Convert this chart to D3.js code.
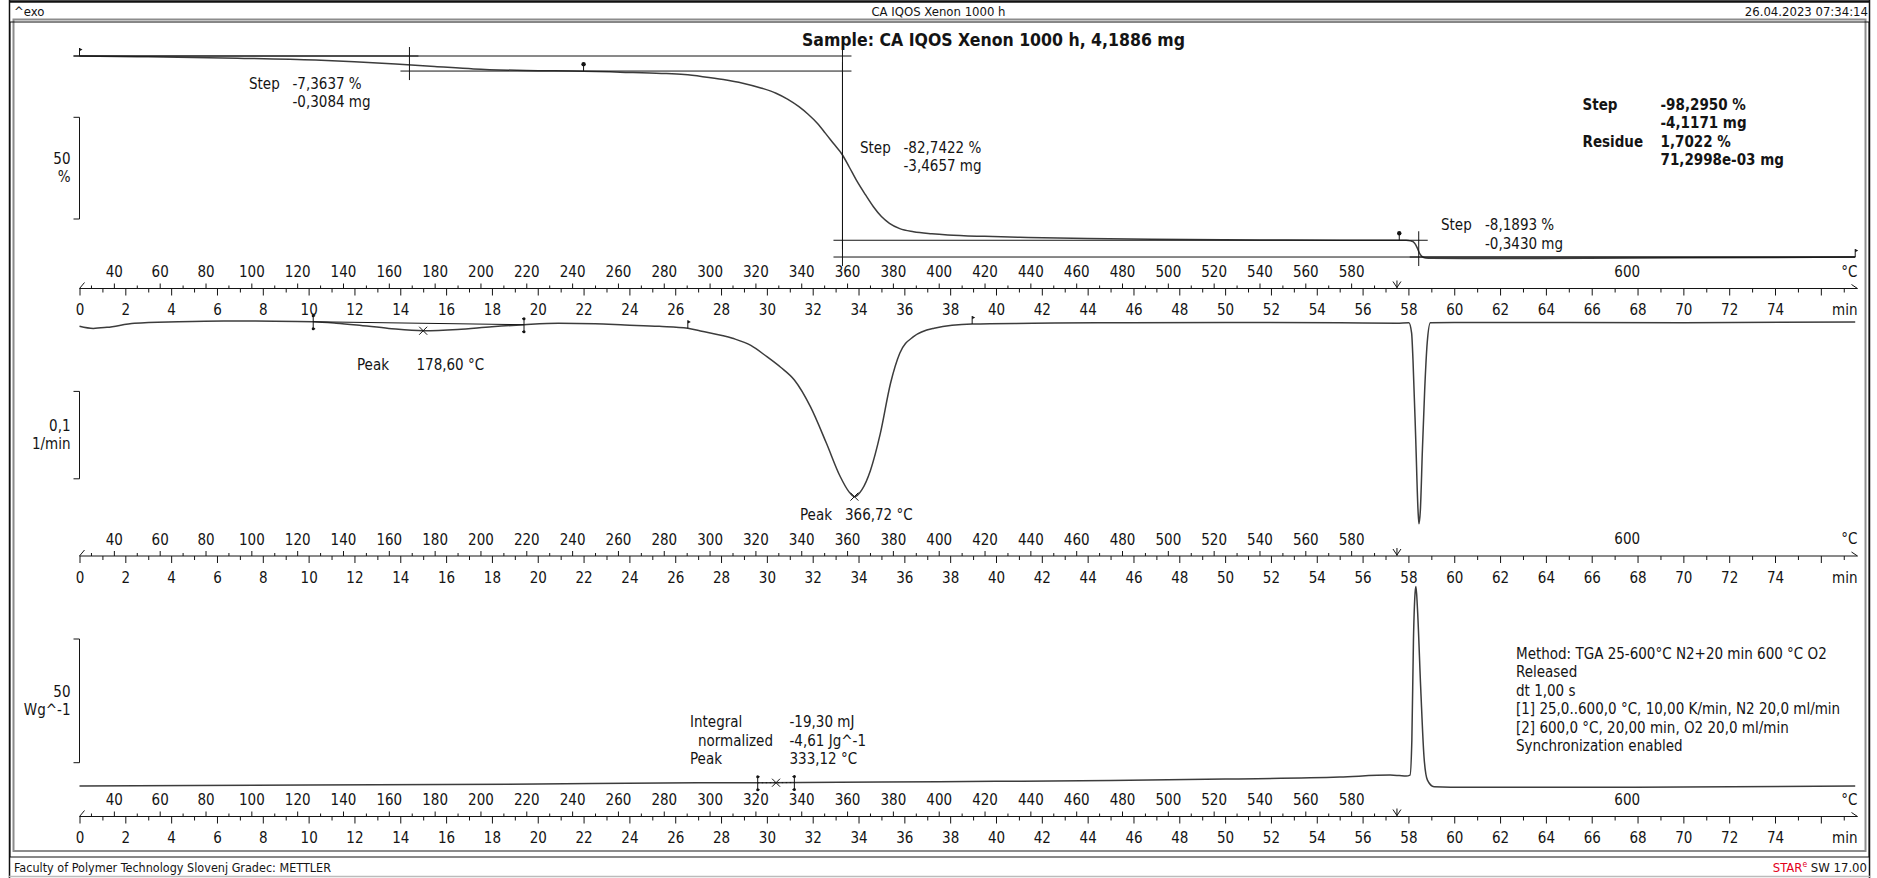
<!DOCTYPE html>
<html>
<head>
<meta charset="utf-8">
<script src="https://cdn.jsdelivr.net/npm/d3@7"></script>
<style>
  body { margin: 0; background: #fff; }
  svg text { font-family: "DejaVu Sans Condensed", "DejaVu Sans", sans-serif; font-stretch: condensed; fill: #141414; }
</style>
</head>
<body>
<svg id="chart" width="1877" height="878"></svg>
<script>
// TGA curve: weight, % of initial mass, against time in min
const tgaTime = [0, 3, 6.9, 10.3, 12, 13.8, 15.5, 17.2, 19.5, 22, 23.6, 25.4, 26.4, 27.2, 28.1, 28.95, 29.7, 30.4, 30.9, 31.4,
                 31.8, 32.2, 32.55, 32.9, 33.3, 33.6, 33.9, 34.3, 34.65, 35, 35.35, 35.8, 36.4, 37.2, 37.9, 39.5, 41.4, 44, 46.8, 51.5,
                 55, 57.3, 57.9, 58.1, 58.2, 58.3, 58.4, 58.5, 58.6, 58.75, 59, 62, 70, 77.5];
const tgaMass = [100, 99.6, 98.9, 98.0, 97.2, 96.1, 94.9, 93.7, 92.9, 92.6, 92.1, 91.5, 90.9, 89.9, 88.5, 86.7, 84.5, 81.8, 78.9, 75.2,
                 71.5, 67.1, 62.3, 57.3, 51.6, 45.6, 39.4, 32.2, 26.3, 21.5, 18.2, 15.6, 14.1, 13.1, 12.5, 11.8, 11.3, 10.8, 10.4, 10.0,
                 9.95, 9.9, 9.85, 9.6, 9.2, 8.0, 5.8, 3.2, 1.9, 1.2, 1.05, 1.0, 1.3, 1.7];

// DTG curve, 1/min
const dtgTime = [0, 0.6, 1.2, 2.4, 4.3, 6.3, 8.5, 10.2, 11.2, 12.1, 13.5, 15, 16.5, 18, 19.4, 20.9, 22.5, 23.8, 25.3, 26.55,
                 27.1, 28.5, 29.3, 30, 30.6, 31.2, 31.9, 32.6, 33.2, 33.57, 33.82, 34.15, 34.52, 34.95, 35.4, 35.8, 36.4, 37.3, 38.96, 41.6,
                 44.6, 50, 55, 57.5, 58.02, 58.14, 58.2, 58.32, 58.42, 58.46, 58.52, 58.61, 58.71, 58.82, 58.96, 60, 70, 77.5];
const dtgRate = [-0.004, -0.0065, -0.0053, -0.0007, 0.001, 0.0019, 0.0017, 0.0011, -0.0005, -0.0026, -0.0065, -0.0092, -0.0078, -0.0046, -0.0023, -0.0007, -0.0012, -0.0026, -0.0042, -0.0064,
                 -0.0095, -0.0178, -0.026, -0.0389, -0.051, -0.0656, -0.0961, -0.138, -0.176, -0.193, -0.199, -0.191, -0.169, -0.127, -0.069, -0.035, -0.016, -0.0064, -0.0015, -0.0007,
                 0, 0.0002, 0, -0.0005, 0, -0.012, -0.043, -0.134, -0.215, -0.230, -0.215, -0.146, -0.077, -0.023, 0, 0.0003, 0, 0.0007];

// DSC heat flow, W/g (relative to the start)
const dscTime = [0, 5, 10, 20, 27, 30, 35, 40, 45, 50, 55, 57.2, 57.6, 57.9, 58.07, 58.15, 58.22, 58.29, 58.33, 58.39,
                 58.54, 58.68, 58.83, 59.12, 59.85, 65, 70, 77.5];
const dscFlow = [0, 0.2, 0.4, 0.8, 1.3, 1.3, 1.6, 1.9, 2.2, 2.8, 3.6, 4.4, 4.2, 4.0, 4.4, 18.5, 58.9, 77.7, 80.4, 72.3,
                 38.7, 11.8, 2.4, -0.3, -0.5, -0.5, -0.4, 0];

// axis labels
const minuteLabels = [0, 2, 4, 6, 8, 10, 12, 14, 16, 18, 20, 22, 24, 26, 28, 30, 32, 34, 36, 38,
                      40, 42, 44, 46, 48, 50, 52, 54, 56, 58, 60, 62, 64, 66, 68, 70, 72, 74];
const tempLabels = [40, 60, 80, 100, 120, 140, 160, 180, 200, 220, 240, 260, 280, 300, 320, 340, 360, 380, 400, 420,
                    440, 460, 480, 500, 520, 540, 560, 580];

// temperature program: 25..600 °C at 10 K/min, then isothermal
const heatStart = 25, heatEnd = 600, heatEndTime = 57.5, endTime = 77.6;

// TGA step evaluations
const stepFrom = [0, 22, 57.6];
const stepTo = [22, 57.6, 77.5];
const stepMid = [14.4, 33.3, 58.45];
const stepUpper = [100, 92.64, 9.9];
const stepLower = [92.64, 9.9, 1.7];
const stepPct = ["-7,3637 %", "-82,7422 %", "-8,1893 %"];
const stepMg = ["-0,3084 mg", "-3,4657 mg", "-0,3430 mg"];

// DTG peak evaluations
const dtgPeakTime = [15.0, 33.82];
const dtgPeakText = ["178,60 °C", "366,72 °C"];
const dtgLimits = [[10.2, 19.4], [26.55, 38.96]];

// DSC integral
const dscLimits = [29.6, 31.2];
const dscPeakTime = 30.4;

const methodLines = [
  "Method: TGA 25-600°C N2+20 min 600 °C O2",
  "Released",
  "dt 1,00 s",
  "[1] 25,0..600,0 °C, 10,00 K/min, N2 20,0 ml/min",
  "[2] 600,0 °C, 20,00 min, O2 20,0 ml/min",
  "Synchronization enabled"
];

const FONT = '"DejaVu Sans Condensed", "DejaVu Sans", sans-serif';
const NARROW = '"Liberation Sans Narrow", "Arial Narrow", "Liberation Sans", sans-serif';
const INK = "#141414", CURVE = "#3c3c3c";

const svg = d3.select("#chart");

let x = d3.scaleLinear().domain([0, endTime]).range([79.5, 1857.5]);
let tempX = d3.scaleLinear().domain([heatStart, heatEnd]).range([x(0), x(heatEndTime)]);

let yTga = d3.scaleLinear().domain([100, 0]).range([56, 260.5]);
let yDtg = d3.scaleLinear().domain([0, -0.1]).range([322.7, 410.1]);
let yDsc = d3.scaleLinear().domain([0, 50]).range([786, 662]);

function valueAt(times, values, t) {
    let i = d3.bisectLeft(times, t);
    if (i <= 0) return values[0];
    if (i >= times.length) return values[values.length - 1];
    let f = (t - times[i - 1]) / (times[i] - times[i - 1]);
    return values[i - 1] + f * (values[i] - values[i - 1]);
}

function text(xp, yp, s, opt) {
    opt = opt || {};
    return svg.append("text")
        .attr("x", xp).attr("y", yp)
        .attr("dy", "0.35em")
        .attr("text-anchor", opt.anchor || "start")
        .attr("font-size", opt.size || 15)
        .attr("font-weight", opt.bold ? "bold" : null)
        .attr("font-family", opt.family || FONT)
        .text(s);
}

// ---- frame ----
let frame = svg.append("g").attr("fill", "none");
frame.append("line").attr("x1", 9).attr("x2", 1870).attr("y1", 1.5).attr("y2", 1.5).attr("stroke", "#111").attr("stroke-width", 2.5);
frame.append("line").attr("x1", 9.5).attr("x2", 9.5).attr("y1", 0).attr("y2", 878).attr("stroke", "#111").attr("stroke-width", 1.5);
frame.append("line").attr("x1", 1869.5).attr("x2", 1869.5).attr("y1", 0).attr("y2", 878).attr("stroke", "#111").attr("stroke-width", 1.5);
frame.append("line").attr("x1", 9).attr("x2", 1870).attr("y1", 876.5).attr("y2", 876.5).attr("stroke", "#bbb").attr("stroke-width", 1.5);
frame.append("rect").attr("x", 13.5).attr("y", 19.5).attr("width", 1852).attr("height", 831.5).attr("stroke", "#8c8c8c").attr("stroke-width", 2);
frame.append("rect").attr("x", 10).attr("y", 22).attr("width", 1859).attr("height", 835).attr("stroke", "#111").attr("stroke-width", 1);

text(14, 11, "^exo", {family: NARROW, size: 13});
text(938.5, 11, "CA IQOS Xenon 1000 h", {family: NARROW, size: 13, anchor: "middle"});
text(1868, 11, "26.04.2023 07:34:14", {family: NARROW, size: 13, anchor: "end"});
text(993.5, 39.5, "Sample: CA IQOS Xenon 1000 h, 4,1886 mg", {size: 17.5, bold: true, anchor: "middle"});

text(14, 867.5, "Faculty of Polymer Technology Slovenj Gradec: METTLER", {family: NARROW, size: 12.5});

// STARe logo, right aligned by measuring it
let star = svg.append("text").attr("x", 0).attr("y", 867.5).attr("dy", "0.35em")
    .attr("font-size", 13).attr("font-family", FONT);
star.append("tspan").style("fill", "#e3001b").text("STAR");
star.append("tspan").style("fill", "#e3001b").attr("font-size", 8.5).attr("baseline-shift", "super").text("e");
star.append("tspan").text(" SW 17.00");
let starBox = star.node().getBBox();
star.attr("x", 1867 - starBox.width);

// ---- time / temperature axes ----
function timeAxis(y0) {
    let g = svg.append("g").attr("transform", "translate(0," + y0 + ")");
    let style = function (sel) {
        sel.select(".domain").remove();
        sel.attr("font-family", FONT).attr("font-size", 15).attr("color", INK);
        sel.selectAll("line").attr("stroke-width", 1);
    };

    let minor = d3.range(1, 78, 2);
    let major = d3.range(0, 78, 2);
    g.append("g").call(d3.axisBottom(x).tickValues(minor).tickSize(4).tickFormat("")).call(style);
    g.append("g").call(d3.axisBottom(x).tickValues(major).tickSize(7).tickPadding(9.3)
        .tickFormat(function (d) { return minuteLabels.includes(d) ? d : ""; })).call(style);

    let tMinor = d3.range(30, 600, 20);
    g.append("g").call(d3.axisTop(tempX).tickValues(tMinor).tickSize(3).tickFormat("")).call(style);
    g.append("g").call(d3.axisTop(tempX).tickValues(tempLabels).tickSize(5).tickPadding(6.5)).call(style);

    let x0 = x(0), x1 = x(endTime);
    g.append("path").attr("fill", "none").attr("stroke", INK).attr("stroke-width", 1)
        .attr("d", "M" + (x0 + 5) + ",-6 L" + x0 + ",0 H" + x1 + " L" + (x1 - 6) + ",-4");

    // end of the heating segment
    let xe = tempX(heatEnd);
    g.append("path").attr("fill", "none").attr("stroke", INK).attr("stroke-width", 1)
        .attr("d", "M" + (xe - 4) + ",-7 L" + xe + ",-1 L" + (xe + 4) + ",-7 M" + xe + ",-8 V0");

    g.append("text").attr("x", x((heatEndTime + endTime) / 2)).attr("y", -17).attr("dy", "0.35em")
        .attr("text-anchor", "middle").attr("font-size", 15).text(heatEnd);
    g.append("text").attr("x", x1).attr("y", -17).attr("dy", "0.35em")
        .attr("text-anchor", "end").attr("font-size", 15).text("°C");
    g.append("text").attr("x", x1).attr("y", 21.5).attr("dy", "0.35em")
        .attr("text-anchor", "end").attr("font-size", 15).text("min");
}
timeAxis(288.5);
timeAxis(556);
timeAxis(816.5);

// ---- scale bars ----
function scaleBar(top, bottom, l1, l2) {
    svg.append("path").attr("fill", "none").attr("stroke", INK).attr("stroke-width", 1)
        .attr("d", "M73.5," + top + " H79.5 V" + bottom + " H73.5");
    let mid = (top + bottom) / 2;
    text(70.5, mid - 9, l1, {anchor: "end"});
    text(70.5, mid + 9, l2, {anchor: "end"});
}
scaleBar(117.3, 219, "50", "%");
scaleBar(391.4, 478.8, "0,1", "1/min");
scaleBar(639, 762.7, "50", "Wg^-1");

// ---- curves ----
function curve(times, values, ys) {
    let line = d3.line()
        .x(function (d) { return x(d[0]); })
        .y(function (d) { return ys(d[1]); })
        .curve(d3.curveMonotoneX);
    svg.append("path").datum(d3.zip(times, values))
        .attr("fill", "none").attr("stroke", CURVE).attr("stroke-width", 1.5)
        .attr("d", line);
}
curve(tgaTime, tgaMass, yTga);
curve(dtgTime, dtgRate, yDtg);
curve(dscTime, dscFlow, yDsc);

// ---- markers ----
let marks = svg.append("g").attr("fill", INK).attr("stroke", INK).attr("stroke-width", 1);

function flag(t, ys, times, values) {
    let px = x(t), py = ys(valueAt(times, values, t));
    marks.append("path").attr("fill", "none").attr("d", "M" + px + "," + py + " V" + (py - 8));
    marks.append("path").attr("stroke", "none").attr("d", "M" + px + "," + (py - 8) + " l3,1.6 l-3,1.6 z");
}
function pin(t, ys, times, values) {
    let px = x(t), py = ys(valueAt(times, values, t));
    marks.append("path").attr("fill", "none").attr("d", "M" + px + "," + py + " V" + (py - 6));
    marks.append("circle").attr("cx", px).attr("cy", py - 7).attr("r", 2.2).attr("stroke", "none");
}
function bracket(t, ys, times, values, dir) {
    let px = x(t), py = ys(valueAt(times, values, t));
    marks.append("path").attr("fill", "none")
        .attr("d", "M" + (px + dir * 2) + "," + (py - 6) + " H" + px + " V" + (py + 7) + " H" + (px + dir * 2));
    marks.append("circle").attr("cx", px).attr("cy", py - 6).attr("r", 1.5).attr("stroke", "none");
    marks.append("circle").attr("cx", px).attr("cy", py + 7).attr("r", 1.5).attr("stroke", "none");
}
function cross(t, ys, times, values) {
    let px = x(t), py = ys(valueAt(times, values, t));
    marks.append("path").attr("fill", "none")
        .attr("d", "M" + (px - 4) + "," + (py - 4) + " L" + (px + 4) + "," + (py + 4) +
                   " M" + (px + 4) + "," + (py - 4) + " L" + (px - 4) + "," + (py + 4));
}

// TGA step construction lines
let ov = 9;
let steps = svg.append("g").attr("stroke", INK).attr("stroke-width", 1).attr("fill", "none");
function hline(t0px, t1px, level) {
    steps.append("line").attr("x1", t0px).attr("x2", t1px).attr("y1", yTga(level)).attr("y2", yTga(level));
}
function vline(t, upper, lower) {
    steps.append("line").attr("x1", x(t)).attr("x2", x(t)).attr("y1", yTga(upper) - ov).attr("y2", yTga(lower) + ov);
}
stepMid.forEach(function (m, i) {
    let a = i === 0 ? x(stepFrom[i]) - 6 : x(stepFrom[i]);
    hline(a, x(m) + ov, stepUpper[i]);
    hline(x(m) - ov, x(stepTo[i]), stepLower[i]);
    vline(m, stepUpper[i], stepLower[i]);
});
// total step
hline(x(stepFrom[0]) - 6, x(stepMid[1]) + ov, stepUpper[0]);
hline(x(stepMid[1]) - ov, x(stepTo[2]), stepLower[2]);
vline(stepMid[1], stepUpper[0] + 3, stepLower[2]);

flag(stepFrom[0], yTga, tgaTime, tgaMass);
pin(stepTo[0], yTga, tgaTime, tgaMass);
pin(stepTo[1], yTga, tgaTime, tgaMass);
flag(stepTo[2], yTga, tgaTime, tgaMass);

let stepLabelPos = [[249, 292.5, 83.5], [860, 903.5, 147.5], [1441, 1485, 225]];
stepLabelPos.forEach(function (p, i) {
    text(p[0], p[2], "Step");
    text(p[1], p[2], stepPct[i]);
    text(p[1], p[2] + 18.5, stepMg[i]);
});

text(1582.5, 105, "Step", {bold: true});
text(1660.5, 105, "-98,2950 %", {bold: true});
text(1660.5, 123, "-4,1171 mg", {bold: true});
text(1582.5, 141.5, "Residue", {bold: true});
text(1660.5, 141.5, "1,7022 %", {bold: true});
text(1660.5, 159.5, "71,2998e-03 mg", {bold: true});

// DTG peaks
let l0 = dtgLimits[0];
steps.append("line")
    .attr("x1", x(l0[0])).attr("y1", yDtg(valueAt(dtgTime, dtgRate, l0[0])))
    .attr("x2", x(l0[1])).attr("y2", yDtg(valueAt(dtgTime, dtgRate, l0[1])));
bracket(l0[0], yDtg, dtgTime, dtgRate, 1);
bracket(l0[1], yDtg, dtgTime, dtgRate, -1);
flag(dtgLimits[1][0], yDtg, dtgTime, dtgRate);
flag(dtgLimits[1][1], yDtg, dtgTime, dtgRate);
dtgPeakTime.forEach(function (t) { cross(t, yDtg, dtgTime, dtgRate); });

text(357, 365, "Peak");
text(416.5, 365, dtgPeakText[0]);
text(800, 515, "Peak");
text(845, 515, dtgPeakText[1]);

// DSC integral
steps.append("line").attr("stroke-dasharray", "1.5,2.5")
    .attr("x1", x(dscLimits[0])).attr("y1", yDsc(valueAt(dscTime, dscFlow, dscLimits[0])))
    .attr("x2", x(dscLimits[1])).attr("y2", yDsc(valueAt(dscTime, dscFlow, dscLimits[1])));
bracket(dscLimits[0], yDsc, dscTime, dscFlow, 1);
bracket(dscLimits[1], yDsc, dscTime, dscFlow, -1);
cross(dscPeakTime, yDsc, dscTime, dscFlow);

text(690, 722, "Integral");
text(698, 740.5, "normalized");
text(690, 759, "Peak");
text(789.5, 722, "-19,30 mJ");
text(789.5, 740.5, "-4,61 Jg^-1");
text(789.5, 759, "333,12 °C");

methodLines.forEach(function (s, i) {
    text(1516, 653.5 + i * 18.5, s);
});
</script>
</body>
</html>
